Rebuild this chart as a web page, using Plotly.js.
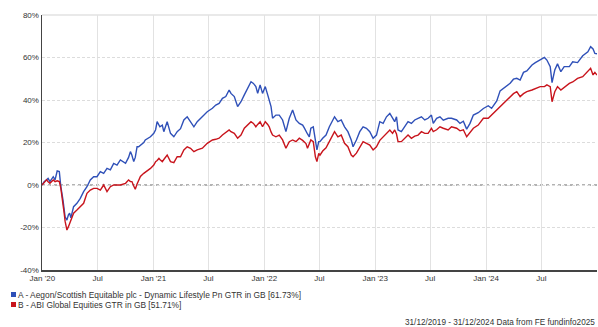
<!DOCTYPE html>
<html>
<head>
<meta charset="utf-8">
<script src="https://cdn.plot.ly/plotly-3.0.1.min.js"></script>
<style>
html,body{margin:0;padding:0;background:#fff;}
#chart{width:598px;height:327px;}
</style>
</head>
<body>
<div id="chart"></div>
<script>
var dates = [
"2019-12-31","2020-01-07","2020-01-15","2020-01-20","2020-01-26","2020-02-06","2020-02-12","2020-02-19","2020-02-26",
"2020-03-02","2020-03-09","2020-03-13","2020-03-16","2020-03-22","2020-03-27","2020-03-31","2020-04-04","2020-04-13",
"2020-04-24","2020-05-05","2020-05-16","2020-05-27","2020-06-07","2020-06-18","2020-06-29","2020-07-10","2020-07-21",
"2020-08-01","2020-08-12","2020-08-23","2020-09-03","2020-09-14","2020-10-01","2020-10-11","2020-10-17","2020-10-22",
"2020-10-28","2020-11-02","2020-11-08","2020-11-13","2020-11-19","2020-11-30","2020-12-05","2020-12-22","2021-01-02",
"2021-01-08","2021-01-13","2021-01-19","2021-01-22","2021-01-30","2021-02-04","2021-02-15","2021-02-26","2021-03-09",
"2021-03-20","2021-03-31","2021-04-11","2021-04-22","2021-05-03","2021-05-14","2021-05-25","2021-06-11","2021-06-27",
"2021-07-14","2021-07-25","2021-08-05","2021-08-16","2021-08-27","2021-09-07","2021-09-13","2021-09-24","2021-10-05",
"2021-10-16","2021-10-27","2021-11-07","2021-11-18","2021-11-26","2021-12-04","2021-12-10","2021-12-18","2021-12-26",
"2022-01-04","2022-01-12","2022-01-17","2022-01-23","2022-01-28","2022-02-08","2022-02-19","2022-03-02","2022-03-13",
"2022-03-24","2022-04-04","2022-04-15","2022-04-26","2022-05-07","2022-05-12","2022-05-18","2022-05-23","2022-05-29",
"2022-06-03","2022-06-11","2022-06-18","2022-06-23","2022-06-29","2022-07-03","2022-07-12","2022-07-23","2022-08-03",
"2022-08-14","2022-08-20","2022-08-31","2022-09-11","2022-09-22","2022-10-03","2022-10-14","2022-10-20","2022-10-31",
"2022-11-11","2022-11-22","2022-12-03","2022-12-14","2022-12-25","2023-01-05","2023-01-16","2023-01-27","2023-02-07",
"2023-02-18","2023-02-27","2023-03-06","2023-03-12","2023-03-17","2023-03-28","2023-04-08","2023-04-19","2023-04-30",
"2023-05-11","2023-05-22","2023-06-02","2023-06-13","2023-06-24","2023-07-05","2023-07-11","2023-07-22","2023-08-02",
"2023-08-13","2023-08-29","2023-09-09","2023-09-26","2023-10-07","2023-10-18","2023-10-29","2023-11-09","2023-11-20",
"2023-12-06","2023-12-23","2024-01-08","2024-01-19","2024-02-05","2024-02-16","2024-03-04","2024-03-20","2024-03-31",
"2024-04-11","2024-04-22","2024-05-03","2024-05-14","2024-05-31","2024-06-11","2024-06-27","2024-07-11","2024-07-19",
"2024-07-30","2024-08-05","2024-08-14","2024-08-23","2024-09-03","2024-09-14","2024-10-01","2024-10-12","2024-10-28",
"2024-11-14","2024-12-01","2024-12-10","2024-12-18","2024-12-24","2024-12-31"
];

var seriesA = [
0,1.5,2.5,3.1,1.6,3.9,2.4,6.6,6.3,
-0.8,-7,-11,-15,-16.5,-14,-13.3,-15.5,-10.2,
-8.6,-6.3,-3.1,-0.8,2.4,3.9,3.9,6.3,5.5,
7.8,7.1,10.2,9.4,11.8,10.2,13,15.7,14,
11,13,18,18,18.8,20,21.2,22.7,24.3,
26,29.8,28,27.4,28.2,25.1,29.8,24.3,22.7,
25.1,26.5,30.6,32.1,29.8,27.4,29.8,32.1,34.5,
36.1,37.6,38.4,40.8,41.6,44.7,43.1,41.6,36.9,
39.2,42.4,45.5,48.6,47.8,46.3,43.1,47.1,43.1,
46.3,42.4,40,36.9,31.4,32.9,32.9,30.6,25.1,
31.4,35.3,30.6,29,28.2,27,25.1,24,22.7,
26.7,27.4,19.6,16.5,20.4,20.4,22,23.5,27.4,
30.6,32.1,29.8,30.6,27.4,25.1,21.2,18,21.2,
25.1,27.4,26.7,25.1,22,23.5,29.8,29,32.1,
33.7,31.4,29.8,32.1,25.9,25.1,27.4,29.8,29,
30.6,31.4,32.1,30.6,31.4,32.9,29,31.4,32.1,
30.5,31.4,31.4,30.6,29,30,26.3,29,32.9,
34,36,37.3,36.1,39.6,44.3,46.3,47.9,49.8,
50.2,49.4,53,53.7,56.5,57.6,58.8,60,58.8,
55.7,48.2,54.1,57,53.3,55.7,55.7,58,57.6,
60.8,62.7,65.1,64,61.9,61.73
];

var seriesB = [
0,1.0,2.4,1.5,0.8,2.4,1.6,2.0,1.6,
-1.5,-8,-13.3,-17,-21.2,-19.6,-18,-16.5,-13.3,
-11.8,-10.2,-8.6,-3.9,-2.4,-1.6,-1.6,-2.4,0,
-3.1,-0.8,0,0,0,0.8,2.4,1.6,1.6,
-0.5,-2,0.5,2.4,4,5.5,6,7.8,9.4,
11,11.5,12.5,12,11,12,14.1,11,10.5,
13.3,13.3,16.5,18,17.3,15.7,16.5,17.3,19.6,
21.2,21.5,22,23.5,24.5,25.9,25.1,24.3,22,
23.5,26.7,28.5,29.8,29,27.4,28.5,29.8,27.4,
29.8,28.5,27.4,25,23.5,22.7,23.5,21.2,17.3,
20.4,21.2,20.4,22,21,20.4,19.5,17.3,19.5,
21.2,20.4,13.3,11,14.9,14,16,17.5,20.4,
23,25.1,22.7,23.5,19.6,18,14.1,13.3,15,
17.5,20.4,19.6,18.8,16.5,18,21,22.7,24,
25.9,24.3,25.9,24,20.4,20.4,22,23.5,22,
23,23.5,25.1,24.3,24.3,26.7,25.1,26,27.4,
26.7,25.9,27.4,26.7,25.5,26,22.7,24.5,26.7,
28.2,31.4,31.4,32.9,35.3,37,39.5,41.6,43,
43.9,41.6,43,43.9,44.7,45.5,46.3,46.3,47.1,
46.3,39.2,43.9,46.3,44.7,46,47.8,48.5,50.2,
51,53.3,54.9,51.8,53,51.71
];

var seriesNames = [
"A - Aegon/Scottish Equitable plc - Dynamic Lifestyle Pn GTR in GB [61.73%]",
"B - ABI Global Equities GTR in GB [51.71%]"
];
var seriesColors = ["#2f50b8", "#c8141c"];

var tickVals = ["2020-01-01","2020-07-01","2021-01-01","2021-07-01","2022-01-01","2022-07-01","2023-01-01","2023-07-01","2024-01-01","2024-07-01"];
var tickText = ["Jan '20","Jul","Jan '21","Jul","Jan '22","Jul","Jan '23","Jul","Jan '24","Jul"];
var yTicks = [-40,-20,0,20,40,60,80];
var yTickText = ["-40%","-20%","0%","20%","40%","60%","80%"];

var FONT = "Liberation Sans, Arial, sans-serif";

var traces = [
  {x: dates, y: seriesA, type: "scatter", mode: "lines", name: seriesNames[0],
   line: {color: seriesColors[0], width: 1.4}, showlegend: false, hoverinfo: "skip"},
  {x: dates, y: seriesB, type: "scatter", mode: "lines", name: seriesNames[1],
   line: {color: seriesColors[1], width: 1.4}, showlegend: false, hoverinfo: "skip"}
];

var layout = {
  width: 598, height: 327,
  margin: {l: 42, r: 1, t: 15, b: 57, pad: 0},
  paper_bgcolor: "#ffffff", plot_bgcolor: "#ffffff",
  font: {family: FONT, size: 8, color: "#333333"},
  showlegend: false,
  xaxis: {
    type: "date",
    range: ["2019-12-31", "2024-12-31"],
    tickmode: "array", tickvals: tickVals, ticktext: tickText,
    showgrid: true, gridcolor: "#e2e2e2", gridwidth: 1,
    showline: true, linecolor: "#444444", linewidth: 1.5,
    ticks: "", zeroline: false,
    tickfont: {family: FONT, size: 8, color: "#333333"}
  },
  yaxis: {
    range: [-40, 80],
    tickmode: "array", tickvals: yTicks, ticktext: yTickText,
    showgrid: true, gridcolor: "#dcdcdc", gridwidth: 1, griddash: "3px,2px",
    showline: true, linecolor: "#444444", linewidth: 1.5,
    ticks: "", zeroline: false,
    tickfont: {family: FONT, size: 8, color: "#333333"}
  },
  shapes: [
    {type: "line", xref: "paper", yref: "y", x0: 0, x1: 1, y0: 0, y1: 0,
     line: {color: "#666666", width: 1, dash: "dot"}, layer: "below"},
    {type: "line", xref: "paper", yref: "paper", x0: 0, x1: 1, y0: 1, y1: 1,
     line: {color: "#e2e2e2", width: 1.5}, layer: "below"},
    {type: "rect", xref: "paper", yref: "paper",
     x0: -31/555, x1: -26/555, y0: -27/255, y1: -22/255,
     line: {width: 0}, fillcolor: seriesColors[0]},
    {type: "rect", xref: "paper", yref: "paper",
     x0: -31/555, x1: -26/555, y0: -37/255, y1: -32/255,
     line: {width: 0}, fillcolor: seriesColors[1]}
  ],
  annotations: [
    {xref: "paper", yref: "paper", x: -26/555, y: -24.5/255, xanchor: "left", yanchor: "middle",
     text: seriesNames[0], showarrow: false, font: {family: FONT, size: 8.4, color: "#333333"}},
    {xref: "paper", yref: "paper", x: -26/555, y: -34.5/255, xanchor: "left", yanchor: "middle",
     text: seriesNames[1], showarrow: false, font: {family: FONT, size: 8.4, color: "#333333"}},
    {xref: "paper", yref: "paper", x: 1, y: -52/255, xanchor: "right", yanchor: "middle",
     text: "31/12/2019 - 31/12/2024 Data from FE fundinfo2025", showarrow: false,
     font: {family: FONT, size: 8.2, color: "#333333"}}
  ]
};

Plotly.newPlot("chart", traces, layout, {staticPlot: true, displayModeBar: false});
</script>
</body>
</html>
